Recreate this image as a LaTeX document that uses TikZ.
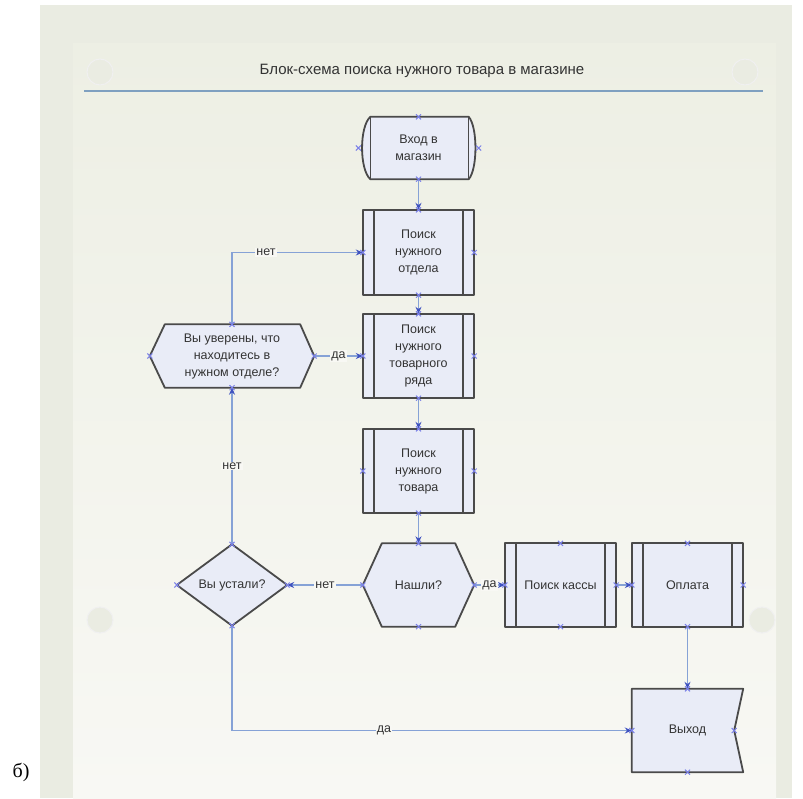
\documentclass[tikz,border=0pt]{standalone}
\usepackage{fontspec}
\setmainfont{Liberation Sans}
\newfontfamily\serifb{Liberation Serif}
\usetikzlibrary{arrows.meta,calc}
\definecolor{nodefill}{HTML}{E9ECF7}
\definecolor{nodeline}{HTML}{4A4A4A}
\definecolor{conncol}{HTML}{86A2D6}
\definecolor{tipcol}{HTML}{3F52C0}
\definecolor{xcol}{HTML}{7A80E8}
\definecolor{txtcol}{HTML}{333333}
\definecolor{bgout}{HTML}{EAECE2}
\definecolor{bgtop}{HTML}{EDEFE4}
\definecolor{bgbot}{HTML}{F8F8F4}
\definecolor{rulecol}{HTML}{7FA0C0}
\tikzset{
  shapebox/.style={rectangle, draw=none, inner sep=0pt, align=center, text=txtcol,
    font=\fontsize{12.5}{17}\selectfont},
  outline/.style={draw=nodeline, fill=nodefill, line width=1.8pt, line join=round},
  inner line/.style={draw=nodeline, line width=1.5pt},
  conn/.style={draw=conncol, line width=1.8pt, -{Stealth[length=7pt,width=6pt,color=tipcol]}},
  lbl/.style={fill=bgbot, inner sep=1pt, text=txtcol, font=\fontsize{12.5}{14}\selectfont},
  xm/.style={draw=xcol, line width=1pt},
  deco/.style={fill=bgout, draw=black!6, line width=1pt}
}
\newcommand{\xmk}[1]{\draw[xm] #1 ++(-2.5,-2.5) -- ++(5,5) ++(-5,0) -- ++(5,-5);}
\begin{document}
\begin{tikzpicture}[x=1pt,y=-1pt]
\useasboundingbox (0,0) rectangle (803,798);
% background
\fill[white] (0,0) rectangle (803,798);
\fill[bgout] (40,5) rectangle (792,798);
\shade[top color=bgtop, bottom color=bgbot] (73,43) rectangle (776,798);
\fill[deco] (100,72) circle (13);
\fill[deco] (745,72) circle (13);
\fill[deco] (100,620) circle (13);
\fill[deco] (762,620) circle (13);
% title
\node[text=txtcol, font=\fontsize{15}{18}\selectfont] (title) at (422,71) {Блок-схема поиска нужного товара в магазине};
\draw[rulecol, line width=1.8pt] (84,91) -- (763,91);
\node[font=\serifb\fontsize{20}{22}\selectfont, text=black] (blabel) at (21,772) {б)};

% nodes
\node[shapebox, minimum width=120, minimum height=62] (vhod) at (418.5,148) {};
\node[shapebox, minimum width=111, minimum height=85] (otdel) at (418.5,252.5) {};
\node[shapebox, minimum width=111, minimum height=84] (ryad) at (418.5,356) {};
\node[shapebox, minimum width=111, minimum height=84] (tovar) at (418.5,471) {};
\node[shapebox, minimum width=111, minimum height=83] (nashli) at (418.5,585) {};
\node[shapebox, minimum width=110, minimum height=81] (ustali) at (232,585) {};
\node[shapebox, minimum width=164, minimum height=63] (uveren) at (232,356) {};
\node[shapebox, minimum width=111, minimum height=83] (kassa) at (560.5,585) {};
\node[shapebox, minimum width=111, minimum height=83] (oplata) at (687.5,585) {};
\node[shapebox, minimum width=111, minimum height=83] (vyhod) at (687.5,730.5) {};

% outlines: terminator
\path[outline] ($(vhod.north west)+(12,0)$) -- ($(vhod.north east)+(-10,0)$)
  .. controls ($(vhod.north east)+(-1,10)$) and ($(vhod.south east)+(-1,-10)$) .. ($(vhod.south east)+(-10,0)$)
  -- ($(vhod.south west)+(12,0)$)
  .. controls ($(vhod.south west)+(1,-10)$) and ($(vhod.north west)+(1,10)$) .. cycle;
\draw[inner line] ($(vhod.north west)+(12,0)$) -- ($(vhod.south west)+(12,0)$);
\draw[inner line] ($(vhod.north east)+(-10,0)$) -- ($(vhod.south east)+(-10,0)$);
% process boxes
\foreach \n in {otdel,ryad,tovar,kassa,oplata}{
  \path[outline] (\n.north west) rectangle (\n.south east);
  \draw[inner line] ($(\n.north west)+(11,0)$) -- ($(\n.south west)+(11,0)$);
  \draw[inner line] ($(\n.north east)+(-11,0)$) -- ($(\n.south east)+(-11,0)$);
}
% hexagons
\path[outline] (nashli.west) -- ($(nashli.north west)+(19,0)$) -- ($(nashli.north east)+(-19,0)$)
  -- (nashli.east) -- ($(nashli.south east)+(-19,0)$) -- ($(nashli.south west)+(19,0)$) -- cycle;
\path[outline] (uveren.west) -- ($(uveren.north west)+(15,0)$) -- ($(uveren.north east)+(-14,0)$)
  -- (uveren.east) -- ($(uveren.south east)+(-14,0)$) -- ($(uveren.south west)+(15,0)$) -- cycle;
% diamond
\path[outline] (ustali.west) -- (ustali.north) -- (ustali.east) -- (ustali.south) -- cycle;
% exit shape
\coordinate (notch) at ($(vyhod.east)+(-9,0)$);
\path[outline] (vyhod.north west) -- (vyhod.north east) -- (notch) -- (vyhod.south east) -- (vyhod.south west) -- cycle;

% texts
\node[shapebox] (tvhod) at (vhod) {Вход в\\магазин};
\node[shapebox] (totdel) at (otdel) {Поиск\\нужного\\отдела};
\node[shapebox] (tryad) at (ryad) {Поиск\\нужного\\товарного\\ряда};
\node[shapebox] (ttovar) at (tovar) {Поиск\\нужного\\товара};
\node[shapebox] (tnashli) at (nashli) {Нашли?};
\node[shapebox] (tustali) at (ustali) {Вы устали?};
\node[shapebox] (tuveren) at (uveren) {Вы уверены, что\\находитесь в\\нужном отделе?};
\node[shapebox] (tkassa) at (kassa) {Поиск кассы};
\node[shapebox] (toplata) at (oplata) {Оплата};
\node[shapebox] (tvyhod) at (vyhod) {Выход};

% connectors
\draw[conn] (vhod.south) -- (otdel.north);
\draw[conn] (otdel.south) -- (ryad.north);
\draw[conn] (ryad.south) -- (tovar.north);
\draw[conn] (tovar.south) -- (nashli.north);
\draw[conn] (nashli.east) -- node[lbl]{да} (kassa.west);
\draw[conn] (kassa.east) -- (oplata.west);
\draw[conn] (oplata.south) -- (vyhod.north);
\draw[conn] (nashli.west) -- node[lbl]{нет} (ustali.east);
\draw[conn] (ustali.north) -- node[lbl]{нет} (uveren.south);
\draw[conn] (uveren.north) |- node[lbl, pos=0.63]{нет} (otdel.west);
\draw[conn] (uveren.east) -- node[lbl]{да} (ryad.west);
\draw[conn] (ustali.south) |- node[lbl, pos=0.69]{да} (vyhod.west);

% connection point marks
\foreach \n in {vhod,otdel,ryad,tovar,nashli,ustali,uveren,kassa,oplata}{
  \foreach \a in {north,south,east,west}{ \xmk{(\n.\a)} }
}
\xmk{(vyhod.north)} \xmk{(vyhod.south)} \xmk{(vyhod.west)} \xmk{(notch)}
\end{tikzpicture}
\end{document}
